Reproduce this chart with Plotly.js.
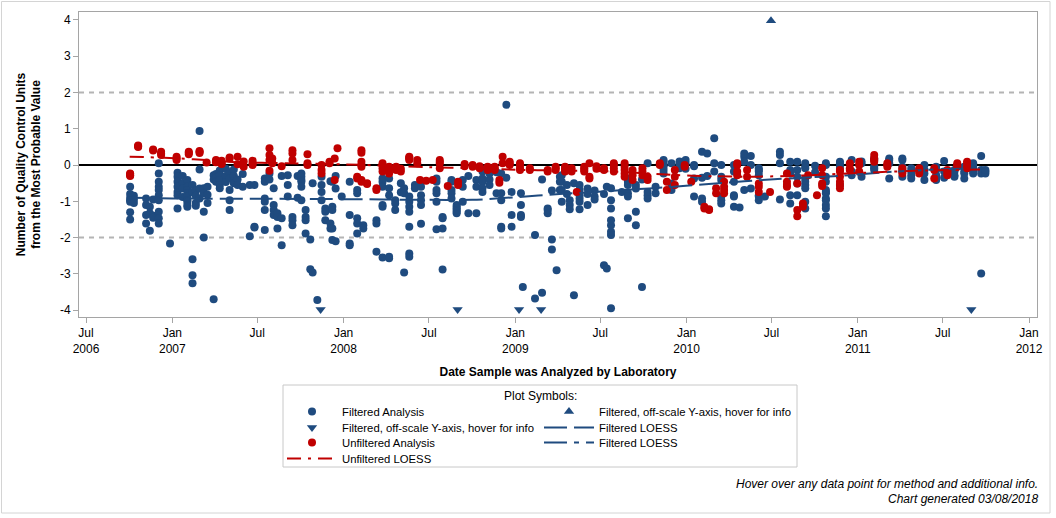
<!DOCTYPE html>
<html>
<head>
<meta charset="utf-8">
<script src="https://cdn.plot.ly/plotly-3.0.1.min.js"></script>
<style>
  html, body { margin: 0; padding: 0; background: #fff; }
  #chart { width: 1056px; height: 518px; }
</style>
</head>
<body>
<div id="chart"></div>
<script>
// ---------- DATA ----------
const xTickVals = ['2006-07-01','2007-01-01','2007-07-01','2008-01-01','2008-07-01','2009-01-01',
                   '2009-07-01','2010-01-01','2010-07-01','2011-01-01','2011-07-01','2012-01-01'];
const xTickText = ['Jul<br>2006','Jan<br>2007','Jul','Jan<br>2008','Jul','Jan<br>2009',
                   'Jul','Jan<br>2010','Jul','Jan<br>2011','Jul','Jan<br>2012'];
const yTickVals = [-4,-3,-2,-1,0,1,2,3,4];
const yTickText = ['-4','-3','-2','-1','0','1','2','3','4'];

// Filtered analyses: one date per sampling day, values for that day
const filteredDates = [
 '2006-10-03','2006-10-11','2006-11-06','2006-11-14','2006-11-21','2006-12-03','2006-12-27','2007-01-12','2007-01-23','2007-02-02',
 '2007-02-13','2007-02-20','2007-02-28','2007-03-09','2007-03-17','2007-03-30','2007-04-04','2007-04-12','2007-04-25','2007-05-03',
 '2007-05-12','2007-05-20','2007-05-31','2007-06-15','2007-06-25','2007-07-17','2007-07-27','2007-08-05','2007-08-13','2007-08-22',
 '2007-09-04','2007-09-14','2007-09-25','2007-10-03','2007-10-12','2007-10-22','2007-10-27','2007-11-06','2007-11-15','2007-11-23',
 '2007-12-04','2007-12-08','2007-12-15','2007-12-28','2008-01-14','2008-01-30','2008-02-12','2008-03-11','2008-03-24','2008-04-07',
 '2008-04-20','2008-05-02','2008-05-09','2008-05-20','2008-06-01','2008-06-14','2008-07-17','2008-07-30','2008-08-18','2008-08-29',
 '2008-09-11','2008-09-23','2008-10-10','2008-10-23','2008-11-07','2008-11-22','2008-12-02','2008-12-13','2008-12-24','2009-01-13',
 '2009-01-17','2009-02-12','2009-02-27','2009-03-11','2009-03-20','2009-03-30','2009-04-06','2009-04-10','2009-04-21','2009-04-27',
 '2009-05-06','2009-05-18','2009-06-04','2009-06-19','2009-07-09','2009-07-15','2009-07-24','2009-08-16','2009-08-29','2009-09-15',
 '2009-09-28','2009-10-10','2009-10-27','2009-11-13','2009-11-30','2009-12-17','2009-12-30','2010-01-17','2010-02-03','2010-02-14',
 '2010-03-01','2010-03-16','2010-04-12','2010-04-24','2010-05-04','2010-05-18','2010-06-04','2010-06-17','2010-07-19','2010-08-10',
 '2010-08-25','2010-09-11','2010-10-02','2010-10-25','2010-11-24','2010-12-19','2011-01-09','2011-02-05','2011-03-09','2011-04-06',
 '2011-04-25','2011-05-23','2011-06-17','2011-07-04','2011-07-26','2011-08-16','2011-09-04','2011-09-21','2011-09-30'
];
const filteredValues = [
 [-0.60,-0.80,-0.90,-0.97,-1.01,-1.30,-1.50],[-0.85,-0.95,-1.05],[-0.92,-1.10,-1.38,-1.61],[-1.15,-1.33,-1.81],[-0.95,-1.40,-1.45],
 [0.05,-0.23,-0.46,-0.60,-0.69,-0.83,-0.97,-1.29,-1.47,-1.61],[-2.16],[-0.21,-0.32,-0.46,-0.60,-0.74,-0.83,-1.20],[-0.30,-0.50,-0.65,-0.88],
 [-0.41,-0.60,-0.69,-0.78,-0.87,-0.97,-1.01,-1.10,-1.15],
 [-0.55,-0.75,-2.60,-3.04,-3.26],[-0.70,-0.85,-1.05,-1.12],[0.94,-0.12,-0.65,-0.92],[-0.64,-0.78,-1.29,-2.00],[-0.60,-0.82,-1.05],
 [-3.70,-0.28,-0.40],[-0.25,-0.35,-0.46],[-0.15,-0.28,-0.41,-0.55,-0.64],[-0.10,-0.30,-0.47],[-0.20,-0.37,-0.69,-0.97,-1.24],
 [-0.12,-0.30,-0.50],[-0.40,-0.55],[-0.25,-0.60],[-1.96,-0.55],[-1.70,-1.72,-0.55],
 [-1.79,-0.37,-0.46,-0.92,-1.01,-1.24],[-0.23,-0.40],[-0.64,-1.10,-1.24,-1.38],[-1.33,-1.43,-1.75],[-0.30,-1.47,-2.21],
 [-0.28,-0.55,-0.87],[-1.43,-1.52,-1.66],[-0.30,-0.90],[-0.23,-0.32,-0.41,-0.46,-0.60,-0.97],[-1.24,-1.43,-1.52,-1.89],
 [-2.05,-2.87],[-2.96,-0.50],[-3.72],[-0.32,-0.55,-0.74,-0.97],[-1.20,-1.29,-1.52],
 [-1.61,-1.75,-0.45],[-0.46,-1.15,-1.24,-1.75,-2.07],[-0.30,-0.65,-2.10],[-0.87],[-0.46,-1.38,-2.16,-2.21],
 [-0.69,-0.78,-1.47,-1.61,-1.89],[-1.66,-1.75],[-1.52,-1.61,-2.39],[-0.37,-0.46,-0.60,-1.10,-1.15,-2.55],[-0.37,-0.64,-0.83,-2.57,-2.53],
 [-0.97,-1.06,-1.24],[-0.50,-0.75],[-2.96,-0.64,-0.78],[-0.87,-1.01,-1.15,-1.29,-1.70,-2.44,-2.53],[-0.55,-0.64],
 [-0.46,-0.60,-0.83,-0.97,-1.10,-1.62],[-0.37,-0.46,-0.69,-0.78,-1.01,-1.77],[-1.43,-1.47,-1.75,-2.88],[-0.41,-0.46,-0.69,-0.78,-0.92],[-1.10,-1.15,-1.20,-1.24,-1.29,-1.33],
 [-0.41,-0.60,-1.01],[-1.33,-0.30],[-0.41,-0.60,-1.33],[-0.12,-0.18,-0.37,-0.46,-0.64,-0.74],[-0.23,-0.40,-0.55],
 [-0.20,-0.78],[-0.23,-0.78,-0.97,-1.70,-1.75],[1.66,-0.35],[-0.74,-1.38,-1.70],[-0.78,-1.38,-1.43,-1.10],
 [-3.36],[-1.93,-3.68],[-3.52,-0.40],[-1.20,-1.24,-1.33],[-2.05,-2.33,-0.70],
 [-2.90],[-0.32,-0.46,-0.69],[-0.28,-0.46,-0.69,-1.01],[-0.80,-0.55],[-0.97,-1.10,-1.22],
 [-3.59,-0.50],[-0.69,-0.83,-0.92,-1.01,-1.22,-0.55],[-0.80,-1.10,-0.65],[-0.70,-0.87,-0.95],[-2.76,-0.80],
 [-2.85,-0.60],[-3.95,-1.84,-1.93,-1.66,-1.52,-1.20,-0.97,-0.64],[-0.74],[-0.37,-0.46,-0.55,-0.78,-0.87,-1.47],[-1.66,-1.29,-0.55,-0.65],
 [-3.36,-0.40],[0.05,-0.92,-0.83,-0.74],[-0.78,-0.60],[0.14,0.09,0.00,-0.05,-0.14,-0.23],[0.05,-0.51,-0.60,-0.69],
 [0.10,0.00,-0.09],[0.14,0.05,-0.10],[0.00,-0.03,-0.37,-0.87],[0.37,-0.92,-1.01,-0.35],[0.32,-0.30],
 [0.74,0.05,-0.18],[0.00,-0.32,-0.41,-0.87,-0.97,-1.06],[0.00,-0.18,-0.46,-0.83,-0.87,-1.15],[-1.17],[0.23,0.32,0.09,-0.69],
 [0.25,0.00,-0.65],[-0.09,-0.14,-0.18,-0.28,-0.83,-0.87,-0.97],[-0.87],[0.37,0.28,0.05,-0.95],[0.09,-0.14,-0.23,-0.83,-1.06],
 [0.09,-0.14,-0.32,-0.51,-0.83],[0.05,-0.05,-0.09,-0.37,-0.46,-0.55,-0.64,-1.01,-1.20],[-0.02,-0.20],
 [0.05,0.00,-0.32,-0.46,-0.69,-0.78,-0.92,-0.97,-1.10,-1.20,-1.41,-0.74],[0.09,0.05,-0.05,-0.14,-0.55],
 [0.14,-0.18,-0.28],[0.05,0.10,-0.32],[0.14,-0.09,-0.14,-0.05,0.18],[0.14,0.05,0.18,-0.37],[0.18,0.14,-0.05,-0.32],
 [-0.09,-0.18,-0.28,-0.37],[-0.14,-0.23,0.00,-0.41],[-0.28,-0.32,-0.37,-0.41,-0.14,-0.05],[0.11,-0.18,-0.35],[-0.18,-0.28,-0.32,-0.14],
 [-0.18,-0.23,-0.05,-0.37],[-0.18,-0.23,-0.09,-0.05,0.05],[0.25,-2.99,-0.14,-0.23],[-0.18,-0.23,-0.14]
];

// Unfiltered analyses
const unfilteredDates = [
 '2006-10-03','2006-10-20','2006-11-21','2006-12-08','2007-01-10','2007-02-05','2007-02-28','2007-03-15','2007-04-04','2007-04-16',
 '2007-05-03','2007-05-20','2007-06-02','2007-06-21','2007-07-27','2007-08-02','2007-08-22','2007-09-14','2007-10-16','2007-11-15',
 '2007-12-02','2007-12-13','2007-12-19','2008-01-30','2008-02-08','2008-02-20','2008-03-11','2008-03-24','2008-04-07','2008-04-22',
 '2008-05-02','2008-05-20','2008-06-06','2008-06-12','2008-06-25','2008-07-09','2008-07-24','2008-08-10','2008-09-01','2008-09-15',
 '2008-10-02','2008-10-17','2008-11-03','2008-11-18','2008-11-28','2008-12-05','2008-12-20','2009-01-11','2009-02-01','2009-03-11',
 '2009-03-28','2009-04-17','2009-05-01','2009-05-12','2009-05-28','2009-06-08','2009-06-23','2009-07-09','2009-07-30','2009-08-22',
 '2009-09-08','2009-09-29','2009-10-10','2009-11-05','2009-11-20','2009-12-07','2009-12-28','2010-01-11','2010-02-08','2010-02-18',
 '2010-03-05','2010-03-22','2010-04-19','2010-05-10','2010-06-04','2010-06-28','2010-08-03','2010-08-25','2010-09-06','2010-09-17',
 '2010-10-06','2010-10-17','2010-11-24','2010-12-15','2011-01-04','2011-02-05','2011-03-05','2011-04-06','2011-05-12','2011-06-13',
 '2011-07-11','2011-08-01','2011-08-22'
];
const unfilteredValues = [
 [-0.23,-0.28,-0.30,-0.25],[0.52,0.50,0.54],[0.43,0.40],[0.37,0.28,0.32],[0.23,0.14,0.18],
 [0.34,0.37,0.30],[0.37,0.39,0.33],[0.07],[0.10,0.14,0.08],[0.05,0.12,0.03],
 [0.21,0.18],[0.23,0.02],[-0.05,0.10],[0.12,0.05,0.00],[0.46,0.28,0.14,-0.16],
 [0.18,0.05],[-0.03],[0.41,0.32,0.14],[0.30,0.05,0.00],[0.00,-0.14,-0.23],
 [0.05,0.09],[0.18,-0.41],[0.46],[-0.32,-0.37],[-0.41,-0.46,0.09,0.00,-0.05,0.41,0.34],
 [-0.52,-0.50],[-0.64,-0.69],[0.05,0.00,-0.09,-0.18],[-0.05,-0.14,-0.23],[-0.09,-0.14,-0.05],
 [-0.18,-0.10],[0.23,0.18,0.14,0.20],[0.14,0.05],[-0.41],[-0.43],
 [-0.41],[0.14,0.09,0.05,-0.09],[-0.58],[-0.46,-0.55],[0.03,-0.03],
 [0.00,-0.05],[-0.03,-0.09],[-0.05,-0.14,-0.09],[-0.05,-0.09,-0.14],[-0.41,-0.49],
 [0.23,0.05],[0.09,0.05,0.00],[0.05,0.00,-0.09,-0.14],[-0.09,-0.14],[-0.18,-0.14],
 [-0.14,-0.09,-0.05],[-0.14,-0.18,-0.10,-0.05],[-0.09,-0.18],[-0.74],[-0.14,-0.09,-0.18,-0.05],
 [-0.32,-0.37,0.05],[-0.03,-0.10],[-0.09,-0.14],[0.05,0.00,-0.09,-0.18],[0.05,-0.05,-0.14,-0.23,-0.32],
 [-0.14,-0.28,-0.41],[-0.09,-0.18,-0.28],[-0.32,-0.41],[0.05,0.00],[-0.69,-0.46],
 [-0.32,-0.55,-0.14],[0.00,-0.05],[-0.46],[-1.15,-1.20],[-1.24,-1.22],
 [-0.64,-0.78],[-0.46,-0.60,-0.69,-0.78],[0.05,0.00,-0.18,-0.28],[-0.32,-0.14],[-0.51,-0.60,-0.74],
 [-0.74],[-0.23,-0.46,-0.55,-0.60],[-1.24,-1.41,-0.51],[-1.06,-1.15],[-0.28],
 [-0.83],[-0.28,-0.51,-0.58,-0.09],[-0.14,-0.18,-0.32,-0.46,-0.55,-0.64],[-0.09,-0.14,0.05],[0.09,0.00,-0.18],
 [0.28,0.18,0.14,0.09],[0.05,0.00,-0.05],[-0.09,-0.14,-0.18,-0.23],[-0.09,-0.14,-0.18,-0.23],[-0.37,-0.09,-0.14],
 [-0.14,-0.18,-0.23,-0.28],[0.05,0.00,-0.05],[0.09,0.05,-0.05,-0.09]
];

// Off-scale filtered results (drawn at the axis limit)
const offScaleLowDates  = ['2007-11-13','2008-08-31','2009-01-09','2009-02-25','2011-08-31'];
const offScaleLowValues = [-3.98,-3.98,-3.98,-3.98,-3.98];
const offScaleHighDates  = ['2010-06-30'];
const offScaleHighValues = [3.98];

// LOESS curves
const filteredLoessDates1  = ['2006-10-02','2007-01-01','2007-07-01','2008-01-01','2008-07-01','2008-10-01','2009-01-10',
                              '2009-04-05','2009-06-01','2009-08-20','2009-12-05','2010-03-10','2010-06-28','2010-10-01'];
const filteredLoessValues1 = [-0.90,-0.92,-0.93,-0.94,-0.96,-0.96,-0.88,-0.80,-0.76,-0.69,-0.60,-0.50,-0.40,-0.33];
const filteredLoessDates2  = ['2010-10-01','2010-11-23','2011-01-26','2011-03-24','2011-06-02','2011-09-02','2011-09-28'];
const filteredLoessValues2 = [-0.33,-0.30,-0.23,-0.18,-0.13,-0.09,-0.07];
const unfilteredLoessDates  = ['2006-10-02','2006-12-15','2007-02-15','2007-05-15','2007-09-01','2008-01-01','2008-04-01',
                               '2008-07-01','2008-10-01','2009-01-01','2009-04-01','2009-08-01','2009-12-01','2010-03-01',
                               '2010-06-01','2010-09-01','2011-01-01','2011-05-01','2011-09-25'];
const unfilteredLoessValues = [0.23,0.20,0.16,0.08,0.05,0.02,-0.02,-0.06,-0.09,-0.13,-0.15,-0.18,-0.27,-0.31,
                               -0.32,-0.29,-0.22,-0.16,-0.12];

// ---------- BUILD ----------
function expand(dates, groups) {
  const x = [], y = [];
  if (dates.length !== groups.length) console.error('length mismatch', dates.length, groups.length);
  dates.forEach((d, i) => (groups[i] || []).forEach(v => { x.push(d); y.push(v); }));
  return {x, y};
}
const BLUE = '#1f4b7f';
const RED = '#c00000';
const F = expand(filteredDates, filteredValues);
const U = expand(unfilteredDates, unfilteredValues);

// legend slots: left column = legend, legend3, legend5, legend7 ; right column = legend2, legend4, legend6
const traces = [
  {type:'scatter', mode:'markers', name:'Filtered Analysis', legend:'legend',
   x:F.x, y:F.y, marker:{color:BLUE, size:8, symbol:'circle'}},
  {type:'scatter', mode:'markers', name:'Filtered, off-scale Y-axis, hover for info', legend:'legend2',
   x:offScaleHighDates, y:offScaleHighValues, marker:{color:BLUE, size:9, symbol:'triangle-up'}},
  {type:'scatter', mode:'markers', name:'Filtered, off-scale Y-axis, hover for info', legend:'legend3',
   x:offScaleLowDates, y:offScaleLowValues, marker:{color:BLUE, size:9, symbol:'triangle-down'}},
  {type:'scatter', mode:'markers', name:'Unfiltered Analysis', legend:'legend5',
   x:U.x, y:U.y, marker:{color:RED, size:8, symbol:'circle'}},
  {type:'scatter', mode:'lines', name:'Filtered LOESS', legend:'legend4',
   x:filteredLoessDates1, y:filteredLoessValues1,
   line:{color:BLUE, width:2, dash:'23px,7px', shape:'spline', smoothing:0.8}},
  {type:'scatter', mode:'lines', name:'Filtered LOESS', legend:'legend6',
   x:filteredLoessDates2, y:filteredLoessValues2,
   line:{color:BLUE, width:2, dash:'23px,7px,5px,7px', shape:'spline', smoothing:0.8}},
  {type:'scatter', mode:'lines', name:'Unfiltered LOESS', legend:'legend7',
   x:unfilteredLoessDates, y:unfilteredLoessValues,
   line:{color:RED, width:2, dash:'14px,7px,3px,7px', shape:'spline', smoothing:0.8}}
];

const axisCommon = {
  showline:true, linecolor:'#a5a5a5', linewidth:1, mirror:true,
  ticks:'outside', ticklen:5, tickcolor:'#a5a5a5', tickwidth:1,
  showgrid:false, automargin:false,
  tickfont:{size:12, color:'#000'}
};

function legendAt(leftPx, rowCenterPx) {
  return {x:(leftPx-79)/958, xanchor:'left', y:(317-(rowCenterPx-14))/305, yanchor:'top', orientation:'v',
          bgcolor:'rgba(0,0,0,0)', borderwidth:0, itemwidth:50, tracegroupgap:0, font:{size:11.3}};
}

const layout = {
  width:1056, height:518,
  margin:{l:79, r:19, t:12, b:201},
  paper_bgcolor:'#fff', plot_bgcolor:'#fff',
  font:{family:'"Liberation Sans", Arial, sans-serif', size:12, color:'#000'},
  showlegend:true,
  hovermode:'closest',
  xaxis: Object.assign({}, axisCommon, {
    type:'date', range:['2006-06-16','2012-01-18'],
    tickmode:'array', tickvals:xTickVals, ticktext:xTickText, zeroline:false,
    title:{text:'<b>Date Sample was Analyzed by Laboratory</b>', standoff:12, font:{size:12}}
  }),
  yaxis: Object.assign({}, axisCommon, {
    range:[-4.19, 4.22], tickmode:'array', tickvals:yTickVals, ticktext:yTickText,
    zeroline:true, zerolinecolor:'#000', zerolinewidth:2,
    title:{text:'<b>Number of Quality Control Units<br>from the Most Probable Value</b>', standoff:16, font:{size:12}}
  }),
  legend:  legendAt(282, 411),
  legend2: legendAt(539, 411),
  legend3: legendAt(282, 427),
  legend4: legendAt(539, 427),
  legend5: legendAt(282, 442),
  legend6: legendAt(539, 442),
  legend7: legendAt(282, 458),
  shapes:[
    {type:'line', xref:'paper', x0:0, x1:1, yref:'y', y0:2, y1:2, layer:'below',
     line:{color:'#b4b4b4', width:2, dash:'5px,5px'}},
    {type:'line', xref:'paper', x0:0, x1:1, yref:'y', y0:-2, y1:-2, layer:'below',
     line:{color:'#b4b4b4', width:2, dash:'5px,5px'}},
    {type:'rect', xref:'paper', yref:'paper', x0:(283-79)/958, x1:(797-79)/958, y0:(317-467)/305, y1:(317-385)/305,
     line:{color:'#c8c8c8', width:1}, fillcolor:'rgba(0,0,0,0)'},
    {type:'rect', xref:'paper', yref:'paper', x0:(1.5-79)/958, x1:(1050-79)/958, y0:(317-513)/305, y1:(317-1.5)/305,
     line:{color:'#d4d4d4', width:1}, fillcolor:'rgba(0,0,0,0)'}
  ],
  annotations:[
    {xref:'paper', yref:'paper', x:(540-79)/958, y:(317-396)/305, xanchor:'center', yanchor:'middle',
     text:'Plot Symbols:', showarrow:false, font:{size:12}},
    {xref:'paper', yref:'paper', x:(1040-79)/958, y:(317-484)/305, xanchor:'right', yanchor:'middle',
     text:'<i>Hover over any data point for method and additional info.</i>', showarrow:false, font:{size:12}},
    {xref:'paper', yref:'paper', x:(1040-79)/958, y:(317-499)/305, xanchor:'right', yanchor:'middle',
     text:'<i>Chart generated 03/08/2018</i>', showarrow:false, font:{size:12}}
  ]
};

Plotly.newPlot('chart', traces, layout, {displayModeBar:false, responsive:false});
</script>
</body>
</html>
